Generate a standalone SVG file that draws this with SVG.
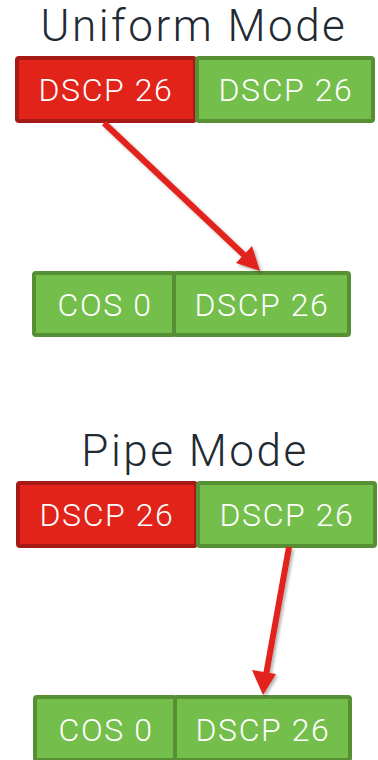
<svg xmlns="http://www.w3.org/2000/svg" width="378" height="760" viewBox="0 0 378 760">
  <defs>
    <style>
      .title { font-family: Roboto, Inter, "Liberation Sans", sans-serif; font-weight: 300; font-size: 44px; letter-spacing: 2.5px; fill: #1f2a33; text-anchor: middle; }
      .lbl { font-family: Roboto, Inter, "Liberation Sans", sans-serif; font-weight: 300; font-size: 32px; letter-spacing: 1.6px; fill: #ffffff; text-anchor: middle; }
      .red { fill: #e2231a; stroke: #a51916; stroke-width: 4; }
      .green { fill: #74bf4b; stroke: #568f34; stroke-width: 4; }
      .arrow { stroke: #e2231a; stroke-width: 6; fill: none; }
      .head { fill: #e2231a; }
    </style>
    <filter id="shadow" x="-20%" y="-20%" width="140%" height="140%">
      <feDropShadow dx="2" dy="2" stdDeviation="1.5" flood-color="#000" flood-opacity="0.3"/>
    </filter>
  </defs>

  <!-- Uniform Mode -->
  <text class="title" x="194" y="41">Uniform Mode</text>
  <g id="u-in-dscp-outer">
    <rect class="red" x="17" y="58" width="178" height="63" rx="2"/>
    <text class="lbl" x="106" y="101">DSCP 26</text>
  </g>
  <g id="u-in-dscp-inner">
    <rect class="green" x="197" y="58" width="176" height="63" rx="2"/>
    <text class="lbl" x="286" y="101">DSCP 26</text>
  </g>
  <g id="u-out-cos">
    <rect class="green" x="34" y="273" width="140" height="62" rx="2"/>
    <text class="lbl" x="105" y="316">COS 0</text>
  </g>
  <g id="u-out-dscp">
    <rect class="green" x="174" y="273" width="175" height="62" rx="2"/>
    <text class="lbl" x="262" y="316">DSCP 26</text>
  </g>

  <!-- Pipe Mode -->
  <text class="title" x="195" y="466">Pipe Mode</text>
  <g id="p-in-dscp-outer">
    <rect class="red" x="18" y="483" width="178" height="63" rx="2"/>
    <text class="lbl" x="107" y="526">DSCP 26</text>
  </g>
  <g id="p-in-dscp-inner">
    <rect class="green" x="198" y="483" width="177" height="63" rx="2"/>
    <text class="lbl" x="287" y="526">DSCP 26</text>
  </g>
  <g id="p-out-cos">
    <rect class="green" x="35" y="697" width="140" height="63" rx="2"/>
    <text class="lbl" x="106" y="741">COS 0</text>
  </g>
  <g id="p-out-dscp">
    <rect class="green" x="175" y="697" width="175" height="63" rx="2"/>
    <text class="lbl" x="263" y="741">DSCP 26</text>
  </g>

  <!-- connectors -->
  <g id="connectors" filter="url(#shadow)">
    <line class="arrow" x1="104" y1="123" x2="244" y2="255"/>
    <polygon class="head" points="260,271 236,263 252,246"/>
    <line class="arrow" x1="289" y1="547" x2="266" y2="675"/>
    <polygon class="head" points="263,695 252,670 276,674"/>
  </g>
</svg>
